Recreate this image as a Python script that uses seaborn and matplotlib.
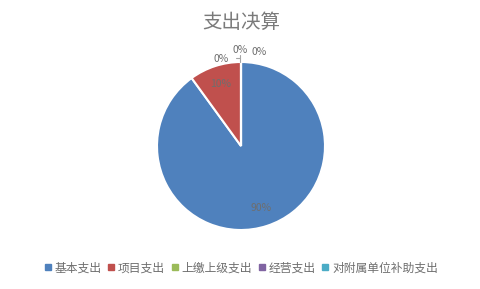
import matplotlib
matplotlib.use("Agg")
import matplotlib.pyplot as plt
import seaborn as sns
import numpy as np
from matplotlib.lines import Line2D

categories = ["基本支出", "项目支出", "上缴上级支出", "经营支出", "对附属单位补助支出"]
values = [90, 10, 0, 0, 0]
pct_labels = ["90%", "10%", "0%", "0%", "0%"]
colors = ["#4F81BD", "#C0504D", "#9BBB59", "#8064A2", "#4BACC6"]
title = "支出决算"

sns.set_theme(style="white")
plt.rcParams['font.family'] = ['Noto Sans CJK SC', 'DejaVu Sans']

fig = plt.figure(figsize=(4.81, 2.89), dpi=100)
W, H = 481, 289
cx, cy, r = 241, 146, 84
ax = fig.add_axes([(cx - r) / W, 1 - (cy + r) / H, 2 * r / W, 2 * r / H])
wedges, _ = ax.pie(values, colors=colors, startangle=90, counterclock=False,
                   wedgeprops=dict(edgecolor="white", linewidth=1.5))
ax.set_xlim(-1, 1)
ax.set_ylim(-1, 1)
ax.set_aspect("equal")

txt_color = "#6E6E6E"
# inside labels for non-zero slices
for w, lab, v in zip(wedges, pct_labels, values):
    if v > 0:
        mid = np.deg2rad((w.theta1 + w.theta2) / 2)
        ax.text(0.77 * np.cos(mid), 0.77 * np.sin(mid), lab, ha="center", va="center",
                fontsize=7.5, color=txt_color)

# outside labels for zero slices (pixel positions)
zero_pos = [(221, 59), (240, 50), (259, 52)]
zi = 0
for lab, v in zip(pct_labels, values):
    if v == 0:
        px, py = zero_pos[zi]
        zi += 1
        fig.text(px / W, 1 - py / H, lab, ha="center", va="center", fontsize=7.5, color=txt_color)
# leader line
fig.add_artist(Line2D([240 / W, 240 / W], [1 - 55 / H, 1 - 62 / H], color="#A6A6A6", lw=0.8))
fig.add_artist(Line2D([236 / W, 240 / W], [1 - 58 / H, 1 - 58 / H], color="#A6A6A6", lw=0.8))

fig.text(241 / W, 1 - 22 / H, title, ha="center", va="center", fontsize=14, color="#7A7A7A")

handles = [Line2D([], [], marker="s", linestyle="", markersize=5, markerfacecolor=c,
                  markeredgecolor=c) for c in colors]
fig.legend(handles, categories, loc="center", bbox_to_anchor=(241 / W, 1 - 268 / H), ncol=5,
           frameon=False, fontsize=8.5, handlelength=0.6, handletextpad=0.3, columnspacing=0.5,
           labelcolor=txt_color)

fig.savefig("out.png", dpi=100)
